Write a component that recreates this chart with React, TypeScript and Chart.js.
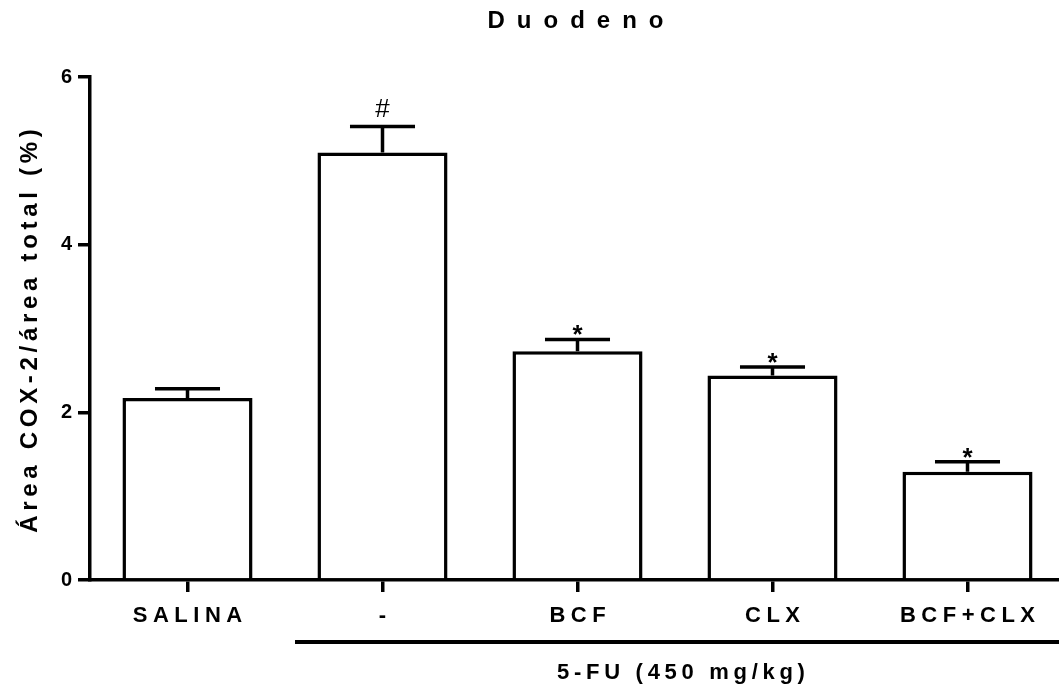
import React, { useEffect, useRef } from 'react';
import { Chart, registerables } from 'chart.js';

Chart.register(...registerables);

const TITLE = 'Duodeno';
const Y_TITLE = 'Área COX-2/área total (%)';
const GROUP_TITLE = '5-FU (450 mg/kg)';
const groups = ['SALINA', '-', 'BCF', 'CLX', 'BCF+CLX'];
const means = [2.17, 5.1, 2.73, 2.44, 1.29];
const errors = [0.11, 0.31, 0.14, 0.1, 0.12];
const marks = ['', '#', '*', '*', '*'];
const yTicks = [0, 2, 4, 6];

const FONT = '"Liberation Sans", Arial, sans-serif';

function drawSpaced(ctx: CanvasRenderingContext2D, text: string, cx: number, y: number, spacing: number) {
  const chars = Array.from(text);
  const widths = chars.map((c) => ctx.measureText(c).width);
  const total = widths.reduce((a, b) => a + b, 0) + spacing * (chars.length - 1);
  let x = cx - total / 2;
  ctx.textAlign = 'left';
  chars.forEach((c, i) => {
    ctx.fillText(c, x, y);
    x += widths[i] + spacing;
  });
}

const annotations = {
  id: 'annotations',
  afterDatasetsDraw(chart: any) {
    const { ctx, scales } = chart;
    const y = scales.y;
    const meta = chart.getDatasetMeta(0);
    ctx.save();
    ctx.strokeStyle = '#000';
    ctx.fillStyle = '#000';
    ctx.lineWidth = 3.5;
    means.forEach((m, i) => {
      const bar = meta.data[i];
      const cx = bar.x;
      const half = bar.width / 4;
      const yMean = y.getPixelForValue(m);
      const yTop = y.getPixelForValue(m + errors[i]);
      ctx.beginPath();
      ctx.moveTo(cx, yMean);
      ctx.lineTo(cx, yTop);
      ctx.moveTo(cx - half, yTop);
      ctx.lineTo(cx + half, yTop);
      ctx.stroke();
      const mk = marks[i];
      if (mk) {
        ctx.textAlign = 'center';
        ctx.textBaseline = 'alphabetic';
        if (mk === '#') {
          ctx.font = `26px ${FONT}`;
          ctx.fillText(mk, cx, yTop - 9);
        } else {
          ctx.font = `bold 26px ${FONT}`;
          ctx.fillText(mk, cx, yTop + 4);
        }
      }
    });
    ctx.restore();
  },
  afterDraw(chart: any) {
    const { ctx, chartArea, scales } = chart;
    const x = scales.x;
    ctx.save();
    ctx.fillStyle = '#000';
    ctx.strokeStyle = '#000';
    ctx.textBaseline = 'alphabetic';

    // Title
    ctx.font = `bold 24px ${FONT}`;
    drawSpaced(ctx, TITLE, (chartArea.left + chartArea.right) / 2 - 2, 28, 12);

    // Category labels
    ctx.font = `bold 22px ${FONT}`;
    groups.forEach((g, i) => {
      drawSpaced(ctx, g, x.getPixelForValue(i), 622, 5.5);
    });

    // 5-FU group line
    const band = x.getPixelForValue(1) - x.getPixelForValue(0);
    const lineStart = x.getPixelForValue(1) - band / 2 + 10;
    ctx.lineWidth = 4;
    ctx.beginPath();
    ctx.moveTo(lineStart, 642);
    ctx.lineTo(chart.width, 642);
    ctx.stroke();

    ctx.font = `bold 22px ${FONT}`;
    drawSpaced(ctx, GROUP_TITLE, (x.getPixelForValue(1) + x.getPixelForValue(4)) / 2 + 6, 679, 4.7);

    // Y title
    ctx.translate(37, 331);
    ctx.rotate(-Math.PI / 2);
    ctx.font = `bold 24px ${FONT}`;
    drawSpaced(ctx, Y_TITLE, 0, 0, 4.7);
    ctx.restore();
  },
};

export default function App() {
  const ref = useRef<HTMLCanvasElement | null>(null);
  useEffect(() => {
    if (!ref.current) return;
    const chart = new Chart(ref.current, {
      type: 'bar',
      data: {
        labels: groups,
        datasets: [
          {
            data: means,
            backgroundColor: '#ffffff',
            borderColor: '#000000',
            borderWidth: 3.5,
            categoryPercentage: 1,
            barPercentage: 0.667,
          },
        ],
      },
      options: {
        responsive: false,
        maintainAspectRatio: false,
        animation: false,
        devicePixelRatio: 1,
        layout: { padding: { top: 77, right: 10, left: 0, bottom: 0 } },
        plugins: {
          legend: { display: false },
          title: { display: false },
          tooltip: { enabled: false },
        },
        scales: {
          x: {
            offset: true,
            grid: {
              display: true,
              offset: false,
              drawOnChartArea: false,
              drawTicks: true,
              tickLength: 12,
              lineWidth: 3.5,
              color: '#000',
            },
            border: { display: true, width: 3.5, color: '#000' },
            ticks: { display: false },
            afterFit: (s: any) => {
              s.height = 107;
            },
          },
          y: {
            min: 0,
            max: 6,
            afterBuildTicks: (s: any) => {
              s.ticks = yTicks.map((v) => ({ value: v }));
            },
            grid: {
              display: true,
              drawOnChartArea: false,
              drawTicks: true,
              tickLength: 12,
              lineWidth: 3.5,
              color: '#000',
            },
            border: { display: true, width: 3.5, color: '#000' },
            ticks: {
              color: '#000',
              padding: 6,
              font: { family: FONT, size: 20, weight: 'bold' },
            },
            afterFit: (s: any) => {
              s.width = 90;
            },
          },
        },
      },
      plugins: [annotations],
    });
    return () => chart.destroy();
  }, []);
  return (
    <div style={{ position: 'absolute', left: 0, top: 0, width: 1059, height: 687, overflow: 'hidden', background: '#fff' }}>
      <canvas ref={ref} width={1075} height={687} style={{ display: 'block', width: 1075, height: 687 }} />
    </div>
  );
}
